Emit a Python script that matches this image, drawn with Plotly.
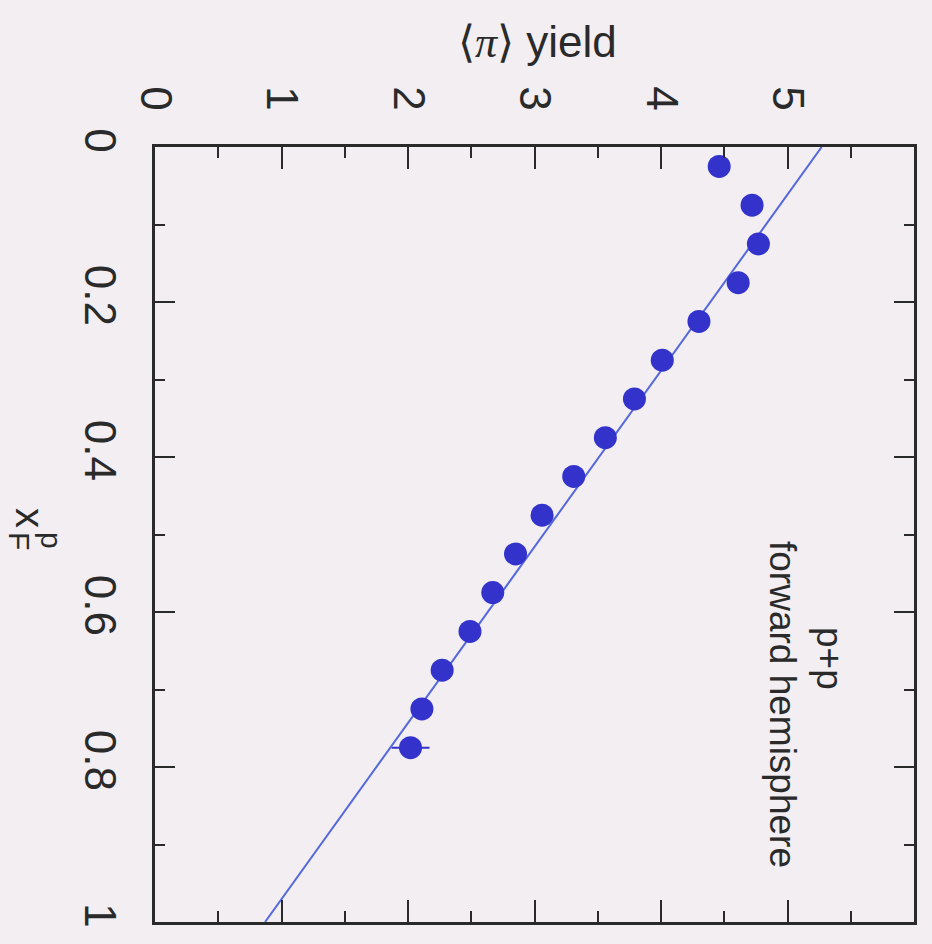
import plotly.graph_objects as go

# Data
xf_values = [0.025, 0.075, 0.125, 0.175, 0.225, 0.275, 0.325, 0.375,
             0.425, 0.475, 0.525, 0.575, 0.625, 0.675, 0.725, 0.775]
pi_yield = [4.46, 4.72, 4.77, 4.61, 4.30, 4.01, 3.79, 3.56,
            3.31, 3.06, 2.85, 2.67, 2.49, 2.27, 2.11, 2.02]
yield_err = [0, 0, 0, 0, 0, 0, 0, 0, 0, 0, 0, 0, 0, 0, 0, 0.15]
fit_xf = [0.0, 1.0]
fit_yield = [5.27, 0.87]
yield_ticks = [0, 1, 2, 3, 4, 5]
xf_ticks = [0, 0.2, 0.4, 0.6, 0.8, 1]
xf_ticktext = ["0", "0.2", "0.4", "0.6", "0.8", "1"]

BG = "#f2eef2"
INK = "#2a2a2a"
FONT = "Liberation Sans, Arial, Helvetica, sans-serif"

fig = go.Figure()
fig.add_trace(go.Scatter(
    x=fit_yield, y=fit_xf, mode="lines",
    line=dict(color="#5468dc", width=2), hoverinfo="skip", showlegend=False))
fig.add_trace(go.Scatter(
    x=pi_yield, y=xf_values, mode="markers",
    marker=dict(size=23, color="#3333cc"),
    error_x=dict(type="data", array=yield_err, color="#3333cc", thickness=2, width=0),
    showlegend=False))

axis_common = dict(
    showline=True, linecolor=INK, linewidth=2.5, mirror="ticks",
    ticks="inside", tickcolor=INK, tickwidth=2,
    showgrid=False, zeroline=False, tickangle=90,
    tickfont=dict(family=FONT, size=44, color=INK),
)

fig.update_xaxes(
    range=[0, 6], side="top", tickvals=yield_ticks, ticklen=22,
    ticklabelstandoff=18,
    minor=dict(ticks="inside", dtick=0.5, ticklen=11, tickcolor=INK, tickwidth=2, showgrid=False),
    **axis_common)
fig.update_yaxes(
    range=[1, 0], tickvals=xf_ticks, ticktext=xf_ticktext, ticklen=20,
    ticklabelstandoff=14,
    minor=dict(ticks="inside", dtick=0.1, ticklen=10, tickcolor=INK, tickwidth=2, showgrid=False),
    **axis_common)

L, R, T, B = 155, 18, 147, 22
W, H = 932, 944
pw, ph = W - L - R, H - T - B


def px(xp, yp):
    return (xp - L) / pw, (H - B - yp) / ph


annos = []
ax, ay = px(537, 42)
annos.append(dict(x=ax, y=ay,
                  text="⟨<span style='font-family:Liberation Serif'><i>π</i></span>⟩ yield",
                  textangle=0, font=dict(family=FONT, size=44, color=INK)))
ax, ay = px(30, 518)
annos.append(dict(x=ax, y=ay, text="x", textangle=90,
                  font=dict(family=FONT, size=40, color=INK)))
ax, ay = px(20, 541)
annos.append(dict(x=ax, y=ay, text="F", textangle=90,
                  font=dict(family=FONT, size=30, color=INK)))
ax, ay = px(52, 541)
annos.append(dict(x=ax, y=ay, text="p", textangle=90,
                  font=dict(family=FONT, size=30, color=INK)))
ax, ay = px(830, 658)
annos.append(dict(x=ax, y=ay, text="p+p", textangle=90,
                  font=dict(family=FONT, size=37, color=INK)))
ax, ay = px(783, 704)
annos.append(dict(x=ax, y=ay, text="forward hemisphere", textangle=90,
                  font=dict(family=FONT, size=37, color=INK)))
for a in annos:
    a.update(xref="paper", yref="paper", showarrow=False,
             xanchor="center", yanchor="middle")

fig.update_layout(
    width=W, height=H,
    margin=dict(l=L, r=R, t=T, b=B, pad=0),
    paper_bgcolor=BG, plot_bgcolor=BG,
    annotations=annos,
)

fig.write_html("out.html")
